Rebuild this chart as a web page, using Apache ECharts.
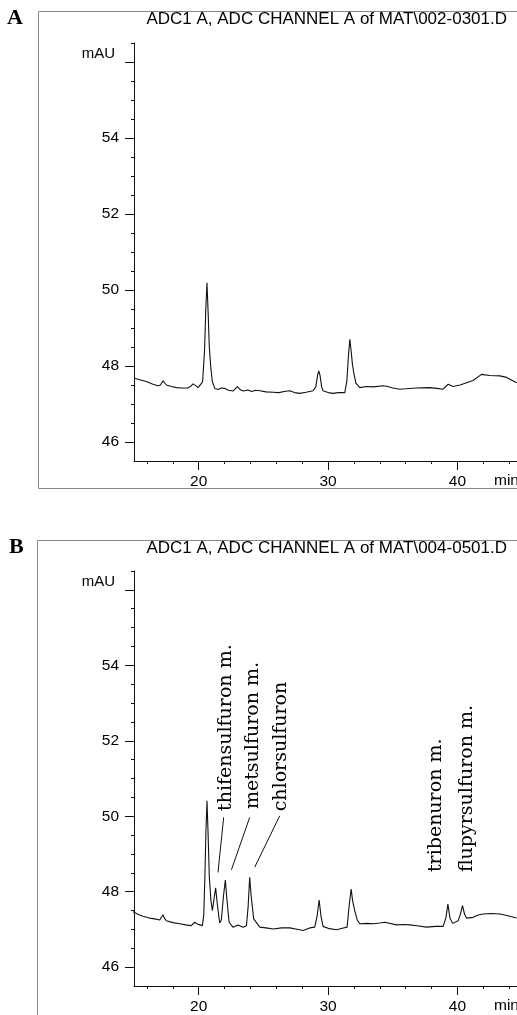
<!DOCTYPE html>
<html>
<head>
<meta charset="utf-8">
<title>HPLC chromatograms</title>
<script src="https://cdn.jsdelivr.net/npm/echarts@6/dist/echarts.min.js"></script>
<style>html,body{margin:0;padding:0;background:#fff;}</style>
</head>
<body>
<div id="main" style="width:517px;height:1015px;"></div>
<script>
// run A : retention time (min) and detector signal (mAU)
var timeA = [15.05,15.5,15.95,16.47,16.85,17.05,17.24,17.5,17.9,18.27,18.7,19.17,19.4,19.56,19.75,19.95,20.08,20.3,20.45,20.55,20.64,20.73,20.82,20.93,21.05,21.24,21.5,21.75,22.01,22.3,22.65,22.99,23.2,23.43,23.8,24.1,24.4,24.72,25.2,25.75,26.2,26.6,27.04,27.4,27.81,28.3,28.84,29.05,29.2,29.28,29.38,29.5,29.61,30.0,30.39,30.8,31.29,31.45,31.58,31.68,31.78,31.88,31.99,32.15,32.45,32.97,33.5,34.25,34.6,35.0,35.54,36.0,36.8,37.86,38.4,38.89,39.28,39.67,40.2,40.7,41.2,41.86,42.5,43.28,43.8,44.57];
var signalA = [47.68,47.63,47.59,47.52,47.48,47.5,47.61,47.5,47.46,47.43,47.42,47.42,47.47,47.53,47.49,47.43,47.44,47.58,48.4,49.5,50.19,49.4,48.5,47.98,47.6,47.41,47.38,47.42,47.41,47.36,47.34,47.46,47.38,47.34,47.37,47.33,47.36,47.35,47.32,47.31,47.3,47.33,47.35,47.3,47.28,47.31,47.35,47.45,47.78,47.87,47.75,47.45,47.35,47.3,47.28,47.3,47.3,47.6,48.3,48.7,48.4,48.05,47.81,47.55,47.43,47.46,47.45,47.48,47.46,47.42,47.39,47.4,47.42,47.43,47.41,47.39,47.52,47.46,47.5,47.56,47.62,47.78,47.75,47.74,47.7,47.56];

// run B
var timeB = [14.92,15.3,15.69,16.2,16.6,16.98,17.1,17.24,17.35,17.5,18.0,18.53,19.0,19.43,19.69,19.9,20.28,20.39,20.48,20.56,20.64,20.72,20.82,20.95,21.06,21.18,21.31,21.43,21.62,21.75,21.92,22.06,22.18,22.35,22.65,23.04,23.43,23.69,23.82,23.94,24.05,24.25,24.72,25.2,25.75,26.4,27.04,27.5,28.07,28.58,28.97,29.15,29.31,29.45,29.61,30.1,30.65,31.1,31.47,31.62,31.78,31.9,32.06,32.25,32.45,33.0,33.48,34.0,34.39,35.29,35.8,36.32,37.0,37.61,38.3,38.89,39.1,39.26,39.42,39.62,40.05,40.22,40.39,40.55,40.7,41.21,41.6,41.99,42.6,43.28,43.9,44.57];
var signalB = [47.47,47.4,47.35,47.3,47.28,47.25,47.28,47.39,47.3,47.23,47.18,47.15,47.12,47.1,47.19,47.14,47.1,47.37,48.4,49.6,50.41,49.6,48.4,47.75,47.5,47.8,48.1,47.7,47.17,47.25,47.9,48.31,47.8,47.19,47.06,47.12,47.06,47.1,47.6,48.38,47.9,47.28,47.06,47.04,47.01,47.04,47.04,47.01,46.97,47.04,47.06,47.35,47.78,47.35,47.08,47.02,46.99,47.03,47.06,47.6,48.07,47.75,47.5,47.25,47.15,47.16,47.15,47.17,47.19,47.12,47.13,47.12,47.09,47.06,47.08,47.08,47.3,47.67,47.3,47.16,47.23,47.4,47.63,47.4,47.3,47.32,47.38,47.41,47.42,47.41,47.36,47.3];

var xMajorTicks = [20, 30, 40];
var xMinorTicks = [16, 18, 22, 24, 26, 28, 32, 34, 36, 38, 42, 44];
var yMajorTicks = [46, 48, 50, 52, 54, 56];
var yMinorTicks = [46.5, 47, 47.5, 48.5, 49, 49.5, 50.5, 51, 51.5, 52.5, 53, 53.5, 54.5, 55, 55.5, 56.5];

var titles = ['ADC1 A, ADC CHANNEL A of MAT\\002-0301.D', 'ADC1 A, ADC CHANNEL A of MAT\\004-0501.D'];

// peak names in run B: text start [min, mAU], leader line from / to
var peakNames = ['thifensulfuron m.', 'metsulfuron m.', 'chlorsulfuron', 'tribenuron m.', 'flupyrsulfuron m.'];
var nameAt = [[22.09, 50.14], [24.20, 50.19], [26.40, 50.13], [38.38, 48.52], [40.75, 48.52]];
var leaderFrom = [[21.93, 49.97], [23.94, 49.97], [26.26, 50.01]];
var leaderTo = [[21.49, 48.51], [22.53, 48.58], [24.33, 48.65]];

var FONT = '"Liberation Sans", Arial, sans-serif';
var SERIF = '"DejaVu Serif", "Liberation Serif", serif';
var LETTER = '"Liberation Serif", serif';

function pairs(t, s) {
    return t.map(function (v, i) { return [v, s[i]]; });
}

function xAxes(grid) {
    return [{
        type: 'value', gridIndex: grid, position: 'bottom', offset: 0,
        min: 15, max: 44.6,
        axisLine: { lineStyle: { color: '#111', width: 1 } },
        axisTick: { customValues: xMajorTicks, length: 9, lineStyle: { color: '#111' } },
        axisLabel: { customValues: xMajorTicks, margin: 13, color: '#000', fontSize: 15.5, fontFamily: FONT },
        splitLine: { show: false }
    }, {
        type: 'value', gridIndex: grid, position: 'bottom', offset: 0,
        min: 15, max: 44.6,
        axisLine: { show: false },
        axisTick: { customValues: xMinorTicks, length: 3, lineStyle: { color: '#111' } },
        axisLabel: { show: false },
        splitLine: { show: false }
    }];
}

function yAxes(grid) {
    return [{
        type: 'value', gridIndex: grid, position: 'left', offset: 0,
        min: 45.5, max: 56.5,
        axisLine: { show: true, lineStyle: { color: '#111', width: 1 } },
        axisTick: { show: true, customValues: yMajorTicks, length: 9, lineStyle: { color: '#111' } },
        axisLabel: {
            customValues: yMajorTicks, margin: 15, color: '#000', fontSize: 15.5, fontFamily: FONT,
            formatter: function (v) { return v === 56 ? '{u|mAU}' : String(v); },
            rich: { u: { fontSize: 15, fontFamily: FONT, color: '#000', padding: [0, 4, 17, 0] } }
        },
        splitLine: { show: false }
    }, {
        type: 'value', gridIndex: grid, position: 'left', offset: 0,
        min: 45.5, max: 56.5,
        axisLine: { show: false },
        axisTick: { show: true, customValues: yMinorTicks, length: 3, lineStyle: { color: '#111' } },
        axisLabel: { show: false },
        splitLine: { show: false }
    }];
}

var chart = echarts.init(document.getElementById('main'), null, { renderer: 'canvas' });

chart.setOption({
    animation: false,
    backgroundColor: '#fff',
    title: [
        { text: titles[0], right: 5, top: 6, textStyle: { fontSize: 17, fontWeight: 'normal', color: '#000', fontFamily: FONT } },
        { text: titles[1], right: 5, top: 535, textStyle: { fontSize: 17, fontWeight: 'normal', color: '#000', fontFamily: FONT } }
    ],
    grid: [
        { left: 134, right: 0, top: 43, height: 418 },
        { left: 134, right: 0, top: 571, height: 416 }
    ],
    xAxis: xAxes(0).concat(xAxes(1)),
    yAxis: yAxes(0).concat(yAxes(1)),
    series: [{
        type: 'line', xAxisIndex: 0, yAxisIndex: 0,
        data: pairs(timeA, signalA),
        showSymbol: false, symbol: 'none',
        lineStyle: { color: '#111', width: 1.1 }
    }, {
        type: 'line', xAxisIndex: 2, yAxisIndex: 2,
        data: pairs(timeB, signalB),
        showSymbol: false, symbol: 'none',
        lineStyle: { color: '#111', width: 1.1 }
    }]
});

// frames, panel letters, axis unit and the peak names of run B
var graphics = [
    { type: 'rect', shape: { x: 38.5, y: 11.5, width: 600, height: 477 }, style: { fill: null, stroke: '#888', lineWidth: 1 } },
    { type: 'rect', shape: { x: 37.5, y: 540.5, width: 600, height: 600 }, style: { fill: null, stroke: '#888', lineWidth: 1 } },
    { type: 'text', x: 7, y: 18, style: { text: 'A', font: 'bold 22px ' + LETTER, fill: '#000', textVerticalAlign: 'middle' } },
    { type: 'text', x: 9, y: 547, style: { text: 'B', font: 'bold 22px ' + LETTER, fill: '#000', textVerticalAlign: 'middle' } },
    { type: 'text', x: 494, y: 481, style: { text: 'min', font: '15.5px ' + FONT, fill: '#000', textVerticalAlign: 'middle' } },
    { type: 'text', x: 494, y: 1006, style: { text: 'min', font: '15.5px ' + FONT, fill: '#000', textVerticalAlign: 'middle' } }
];
var finder = { xAxisIndex: 2, yAxisIndex: 2 };
peakNames.forEach(function (name, i) {
    var p = chart.convertToPixel(finder, nameAt[i]);
    graphics.push({
        type: 'text', x: p[0], y: p[1], rotation: Math.PI / 2,
        style: { text: name, font: '19px ' + SERIF, fill: '#000', textAlign: 'left', textVerticalAlign: 'middle' }
    });
});
leaderFrom.forEach(function (a, i) {
    var p = chart.convertToPixel(finder, a);
    var q = chart.convertToPixel(finder, leaderTo[i]);
    graphics.push({
        type: 'line', shape: { x1: p[0], y1: p[1], x2: q[0], y2: q[1] },
        style: { stroke: '#111', lineWidth: 1 }
    });
});
chart.setOption({ graphic: graphics });

window.onresize = function () {
    chart.resize();
};
</script>
</body>
</html>
